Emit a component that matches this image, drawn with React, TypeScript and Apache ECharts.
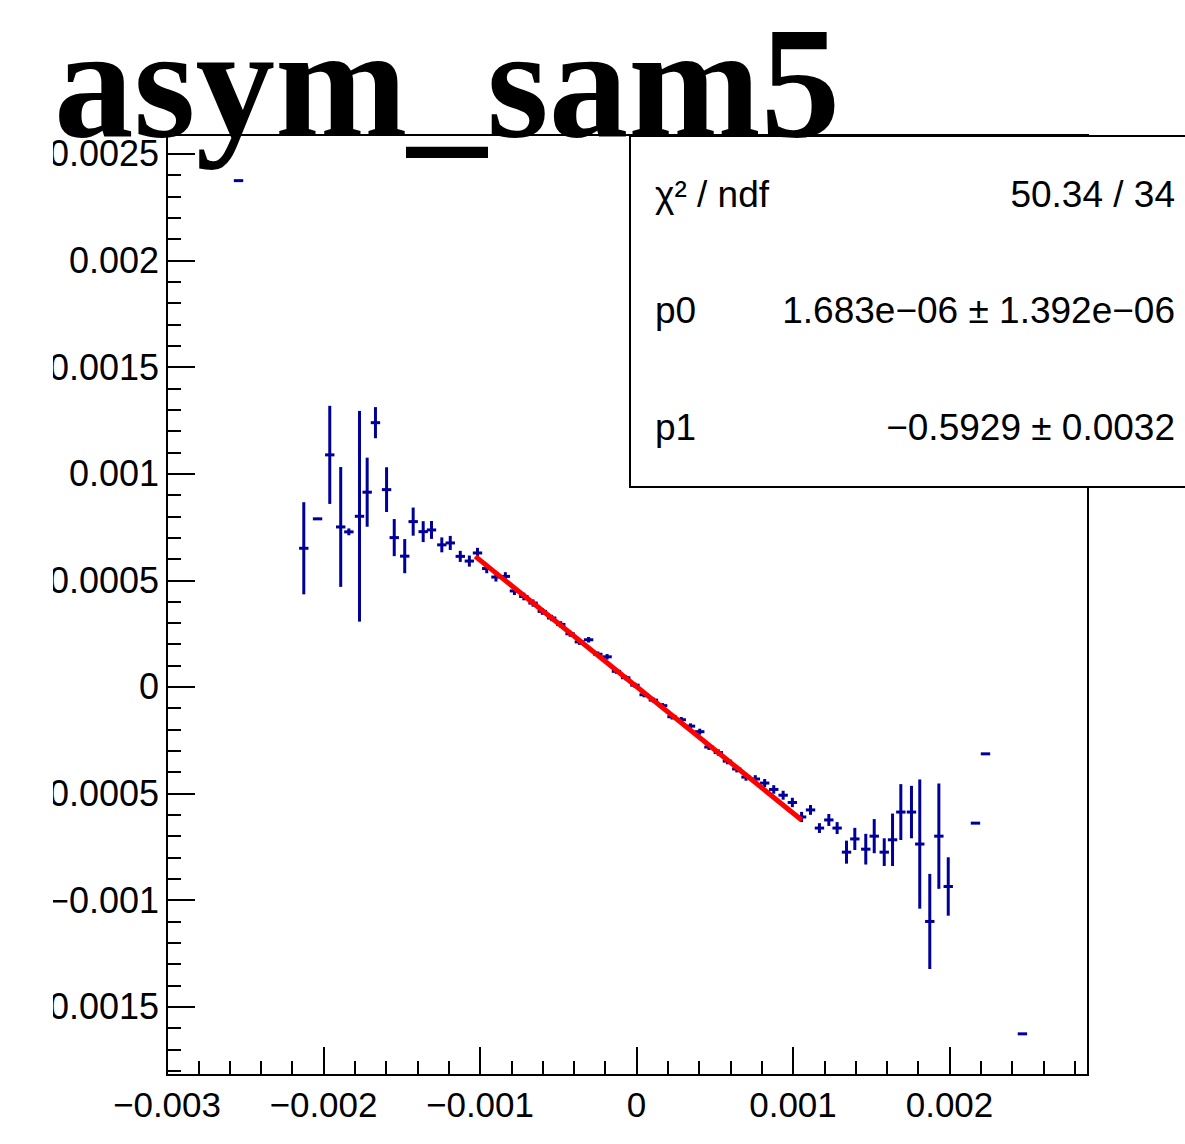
import React, { useEffect, useRef } from 'react';
import * as echarts from 'echarts';

const TITLE = 'asym_sam5';

const X_MIN = -0.003;
const X_MAX = 0.002885;
const Y_MIN = -0.00182;
const Y_MAX = 0.002588;

const X_MAJOR = [-0.003, -0.002, -0.001, 0, 0.001, 0.002];
const X_MINOR = [
  -0.0028, -0.0026, -0.0024, -0.0022, -0.0018, -0.0016, -0.0014, -0.0012,
  -0.0008, -0.0006, -0.0004, -0.0002, 0.0002, 0.0004, 0.0006, 0.0008,
  0.0012, 0.0014, 0.0016, 0.0018, 0.0022, 0.0024, 0.0026, 0.0028,
];
const Y_MAJOR = [-0.0015, -0.001, -0.0005, 0, 0.0005, 0.001, 0.0015, 0.002, 0.0025];
const Y_MINOR = [
  -0.0018, -0.0017, -0.0016, -0.0014, -0.0013, -0.0012, -0.0011,
  -0.0009, -0.0008, -0.0007, -0.0006, -0.0004, -0.0003, -0.0002, -0.0001,
  0.0001, 0.0002, 0.0003, 0.0004, 0.0006, 0.0007, 0.0008, 0.0009,
  0.0011, 0.0012, 0.0013, 0.0014, 0.0016, 0.0017, 0.0018, 0.0019,
  0.0021, 0.0022, 0.0023, 0.0024,
];

const POINT_X = [
  -0.002543,
  -0.002126, -0.002038, -0.00196, -0.00189, -0.001838, -0.00177, -0.001721, -0.001668, -0.001597,
  -0.001548, -0.001481, -0.001427, -0.001363, -0.00131, -0.001244, -0.00119, -0.001126, -0.001068,
  -0.001016, -0.000957, -0.000898, -0.000838, -0.00078, -0.00072, -0.000661, -0.000602, -0.000542,
  -0.000484, -0.000424, -0.000365, -0.000306, -0.000247, -0.000188, -0.000128, -0.000069, -0.00001,
  0.000049, 0.000108, 0.000167, 0.000227, 0.000286, 0.000345, 0.000404, 0.000463, 0.000523,
  0.000581, 0.000641, 0.0007, 0.000759, 0.000819, 0.000877, 0.000937, 0.000996, 0.001055,
  0.001112, 0.001169, 0.001229, 0.001282, 0.001342, 0.001395, 0.001465, 0.001519, 0.001583,
  0.001636, 0.001689, 0.001757, 0.00181, 0.001874, 0.001932, 0.001992,
  0.002166, 0.00223, 0.002466,
];
const POINT_Y = [
  0.002374,
  0.00065, 0.000788, 0.001088, 0.00075, 0.000727, 0.0008, 0.000913, 0.001239, 0.000925,
  0.0007, 0.000613, 0.000775, 0.000728, 0.000736, 0.000666, 0.000675, 0.000612, 0.00059,
  0.000628, 0.000555, 0.000515, 0.000518, 0.00045, 0.000424, 0.000393, 0.000354, 0.000323,
  0.000293, 0.000249, 0.000211, 0.000221, 0.000153, 0.000141, 0.000073, 0.000043, 0.000008,
  -0.000037, -0.000062, -0.000088, -0.00014, -0.000154, -0.000184, -0.00021, -0.000282, -0.000308,
  -0.000348, -0.000385, -0.000423, -0.000432, -0.000451, -0.000481, -0.000508, -0.000542, -0.00061,
  -0.000577, -0.000662, -0.000624, -0.000662, -0.000775, -0.000713, -0.000761, -0.0007, -0.000775,
  -0.000717, -0.000587, -0.000587, -0.000737, -0.0011, -0.0007, -0.000936,
  -0.000639, -0.000314, -0.001627,
];
const POINT_EY = [
  0,
  0.000216, 0.000005, 0.00023, 0.000281, 0.000016, 0.000494, 0.000162, 0.000073, 0.000105,
  0.000087, 0.00008, 0.000066, 0.000049, 0.000042, 0.000035, 0.000033, 0.000026, 0.000026,
  0.000024, 0.000022, 0.000021, 0.00002, 0.000019, 0.000018, 0.000017, 0.000016, 0.000015,
  0.000015, 0.000014, 0.000014, 0.000013, 0.000013, 0.000013, 0.000012, 0.000012, 0.000012,
  0.000012, 0.000012, 0.000012, 0.000013, 0.000013, 0.000013, 0.000014, 0.000014, 0.000015,
  0.000015, 0.000016, 0.000017, 0.000018, 0.000019, 0.00002, 0.000021, 0.000022, 0.000024,
  0.000023, 0.000023, 0.000028, 0.000028, 0.000054, 0.000052, 0.000072, 0.00008, 0.000065,
  0.000123, 0.000131, 0.000123, 0.000303, 0.000223, 0.000247, 0.000137,
  0, 0, 0,
];
const POINT_EX = 0.00003;

const FIT_X = [-0.00103, 0.001055];
const FIT_Y = [0.000612, -0.000624];

const STATS_LABELS = ['\u03c7\u00b2 / ndf', 'p0', 'p1'];
const STATS_VALUES = ['50.34 / 34', '1.683e\u221206 \u00b1 1.392e\u221206', '\u22120.5929 \u00b1 0.0032'];

const POINT_COLOR = '#000099';
const SANS = '"Liberation Sans", Arial, Helvetica, sans-serif';
const SERIF = '"Liberation Serif", "Times New Roman", serif';

const fmt = (v: number) => {
  if (Math.abs(v) < 1e-12) return '0';
  const s = String(+Math.abs(v).toPrecision(6));
  return (v < 0 ? '\u2212' : '') + s;
};

export default function App() {
  const ref = useRef<HTMLDivElement>(null);

  useEffect(() => {
    if (!ref.current) return;
    const chart = echarts.init(ref.current, undefined, { renderer: 'svg' });

    const points = POINT_X.map((x, i) => [x, POINT_Y[i], POINT_EY[i]]);
    const fit = FIT_X.map((x, i) => [x, FIT_Y[i]]);

    const gridL = 167, gridT = 135, gridW = 921, gridH = 940;
    const rowY = [194, 310, 427];

    const graphics: any[] = [
      {
        type: 'rect',
        z: 50,
        shape: { x: 0, y: 130, width: 53, height: 960 },
        style: { fill: '#fff' },
      },
      {
        type: 'rect',
        z: 60,
        shape: { x: 630, y: 136, width: 600, height: 351 },
        style: { fill: '#fff', stroke: '#000', lineWidth: 2 },
      },
      {
        type: 'text',
        z: 100,
        x: 54,
        y: 82,
        style: {
          text: TITLE,
          font: `bold 159px ${SERIF}`,
          lineHeight: 150,
          fill: '#000',
          align: 'left',
          verticalAlign: 'middle',
          textAlign: 'left',
          textVerticalAlign: 'middle',
        },
      },
    ];
    STATS_LABELS.forEach((t, i) => {
      graphics.push({
        type: 'text',
        z: 70,
        x: 655,
        y: rowY[i],
        style: {
          text: t, font: `37px ${SANS}`, fill: '#000',
          align: 'left', verticalAlign: 'middle', textAlign: 'left', textVerticalAlign: 'middle',
        },
      });
      graphics.push({
        type: 'text',
        z: 70,
        x: 1175,
        y: rowY[i],
        style: {
          text: STATS_VALUES[i], font: `37px ${SANS}`, fill: '#000',
          align: 'right', verticalAlign: 'middle', textAlign: 'right', textVerticalAlign: 'middle',
        },
      });
    });

    const tickStyle = { color: '#000', width: 2 };
    const noLine = { show: false, onZero: false };

    chart.setOption({
      animation: false,
      backgroundColor: '#fff',
      grid: {
        left: gridL, top: gridT, width: gridW, height: gridH,
        show: true, borderColor: '#000', borderWidth: 2, backgroundColor: 'transparent',
        containLabel: false,
      },
      xAxis: [
        {
          type: 'value', min: X_MIN, max: X_MAX, position: 'bottom',
          axisLine: noLine,
          splitLine: { show: false },
          axisTick: { show: true, inside: true, length: 28, lineStyle: tickStyle, customValues: X_MAJOR },
          axisLabel: {
            show: true, customValues: X_MAJOR, formatter: fmt, margin: 12,
            fontSize: 35, fontFamily: SANS, color: '#000',
          },
        },
        {
          type: 'value', min: X_MIN, max: X_MAX, position: 'bottom',
          axisLine: noLine,
          splitLine: { show: false },
          axisTick: { show: true, inside: true, length: 14, lineStyle: tickStyle, customValues: X_MINOR },
          axisLabel: { show: false },
        },
      ],
      yAxis: [
        {
          type: 'value', min: Y_MIN, max: Y_MAX, position: 'left',
          axisLine: noLine,
          splitLine: { show: false },
          axisTick: { show: true, inside: true, length: 28, lineStyle: tickStyle, customValues: Y_MAJOR },
          axisLabel: {
            show: true, customValues: Y_MAJOR, formatter: fmt, margin: 8,
            fontSize: 36, fontFamily: SANS, color: '#000',
          },
        },
        {
          type: 'value', min: Y_MIN, max: Y_MAX, position: 'left',
          axisLine: noLine,
          splitLine: { show: false },
          axisTick: { show: true, inside: true, length: 14, lineStyle: tickStyle, customValues: Y_MINOR },
          axisLabel: { show: false },
        },
      ],
      series: [
        {
          type: 'custom',
          name: 'asym',
          xAxisIndex: 0,
          yAxisIndex: 0,
          z: 3,
          clip: false,
          data: points,
          encode: { x: 0, y: 1 },
          renderItem: (params: any, api: any) => {
            const x = api.value(0);
            const y = api.value(1);
            const ey = api.value(2);
            const l = api.coord([x - POINT_EX, y]);
            const r = api.coord([x + POINT_EX, y]);
            const lo = api.coord([x, y - ey]);
            const hi = api.coord([x, y + ey]);
            const children: any[] = [
              {
                type: 'line',
                shape: { x1: l[0], y1: l[1], x2: r[0], y2: r[1] },
                style: { stroke: POINT_COLOR, lineWidth: 3 },
              },
            ];
            if (Math.abs(hi[1] - lo[1]) > 1) {
              children.push({
                type: 'line',
                shape: { x1: lo[0], y1: lo[1], x2: hi[0], y2: hi[1] },
                style: { stroke: POINT_COLOR, lineWidth: 3 },
              });
            }
            return { type: 'group', children };
          },
        },
        {
          type: 'line',
          name: 'fit',
          xAxisIndex: 0,
          yAxisIndex: 0,
          z: 5,
          data: fit,
          showSymbol: false,
          symbol: 'none',
          lineStyle: { color: '#ff0000', width: 5 },
        },
      ],
      graphic: graphics,
    });

    return () => chart.dispose();
  }, []);

  return (
    <div
      ref={ref}
      style={{ position: 'fixed', left: 0, top: 0, width: 1185, height: 1144, background: '#fff' }}
    />
  );
}
